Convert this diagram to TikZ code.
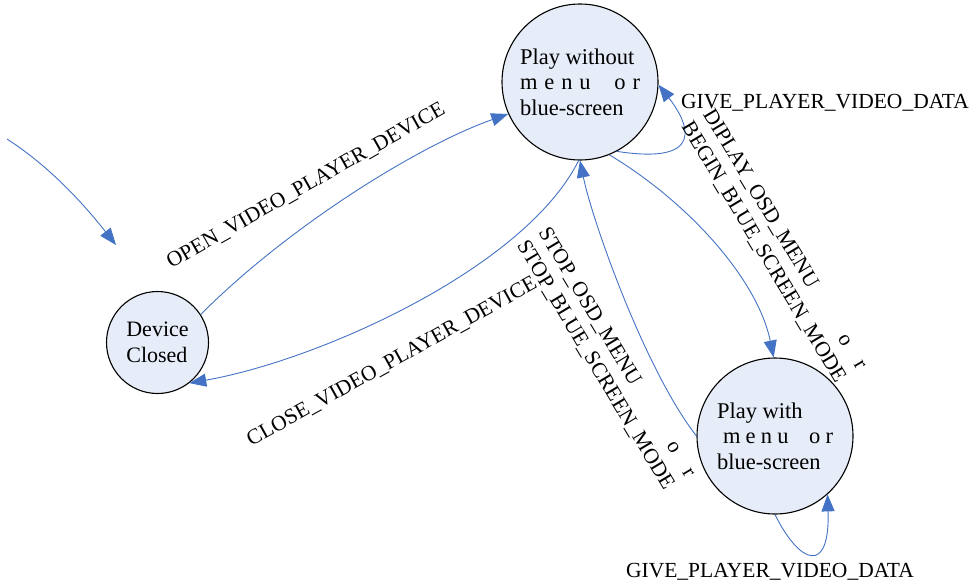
\documentclass[tikz,border=0pt]{standalone}
\usepackage{fontspec}
\setmainfont{Liberation Serif}
\usepackage{calc}
\usetikzlibrary{arrows.meta}
\definecolor{lineblue}{RGB}{68,114,196}
\definecolor{statefill}{RGB}{231,237,248}
\tikzset{
  state/.style={circle, draw=black, line width=1.1pt, fill=statefill, minimum size=156pt, inner sep=0pt, align=left, font=\fontsize{22.5}{25.5}\selectfont},
  conn/.style={draw=lineblue, line width=0.9pt, -{Triangle[length=17pt,width=13pt]}},
  lbl/.style={font=\fontsize{21.5}{25}\selectfont, inner sep=0pt, align=left}
}
\begin{document}
\begin{tikzpicture}[x=1pt,y=-1pt]
\path[use as bounding box] (0,0) rectangle (979,587);

\node[state] (pw) at (580,82) {Play without\\\makebox[120pt][s]{m e n u \hspace{10pt} o r}\\blue-screen};
\node[state, minimum size=102pt, font=\fontsize{22}{25.5}\selectfont] (dc) at (157.5,342.5) {Device\\Closed};
\node[state] (pm) at (775,436) {Play with\\\hspace*{6pt}\makebox[110pt][s]{m e n u \hspace{10pt} o r}\\blue-screen};

\coordinate (init) at (7,139);

% initial arrow
\draw[conn] (init) .. controls (52,168) and (86,207) .. (116,245);

% open
\draw[conn] (dc.33) .. controls (290,225) and (420,145) .. (pw.204);
% close
\draw[conn] (pw.269) .. controls (525,268) and (320,360) .. (dc.308);
% self loop top
\draw[conn] (pw.298) .. controls (705,165) and (690,125) .. (pw.358);
% diplay
\draw[conn] (pw.292) .. controls (691,204) and (758,281) .. (pm.91);
% stop
\draw[conn] (pm.180) .. controls (645,370) and (592,220) .. (pw.270);
% self loop bottom
\draw[conn] (pm.270) .. controls (800,565) and (830,575) .. (pm.312);

% labels
\node[lbl, rotate=29.5] (lopen) at (306,186) {OPEN\_VIDEO\_PLAYER\_DEVICE};
\node[lbl, rotate=29] (lclose) at (392,362) {CLOSE\_VIDEO\_PLAYER\_DEVICE};
\node[lbl] (lgive1) at (825,103) {GIVE\_PLAYER\_VIDEO\_DATA};
\node[lbl] (lgive2) at (770,572) {GIVE\_PLAYER\_VIDEO\_DATA};
\node[lbl, rotate=-59] (ldip) at (774,246) {\makebox[\widthof{BEGIN\_BLUE\_SCREEN\_MODE}][l]{DIPLAY\_OSD\_MENU\hfill o\hspace{20pt}r}\\BEGIN\_BLUE\_SCREEN\_MODE};
\node[lbl, rotate=-59] (lstop) at (606,359) {\makebox[\widthof{STOP\_BLUE\_SCREEN\_MODE}][l]{STOP\_OSD\_MENU\hfill o\hspace{20pt}r}\\STOP\_BLUE\_SCREEN\_MODE};
\end{tikzpicture}
\end{document}
